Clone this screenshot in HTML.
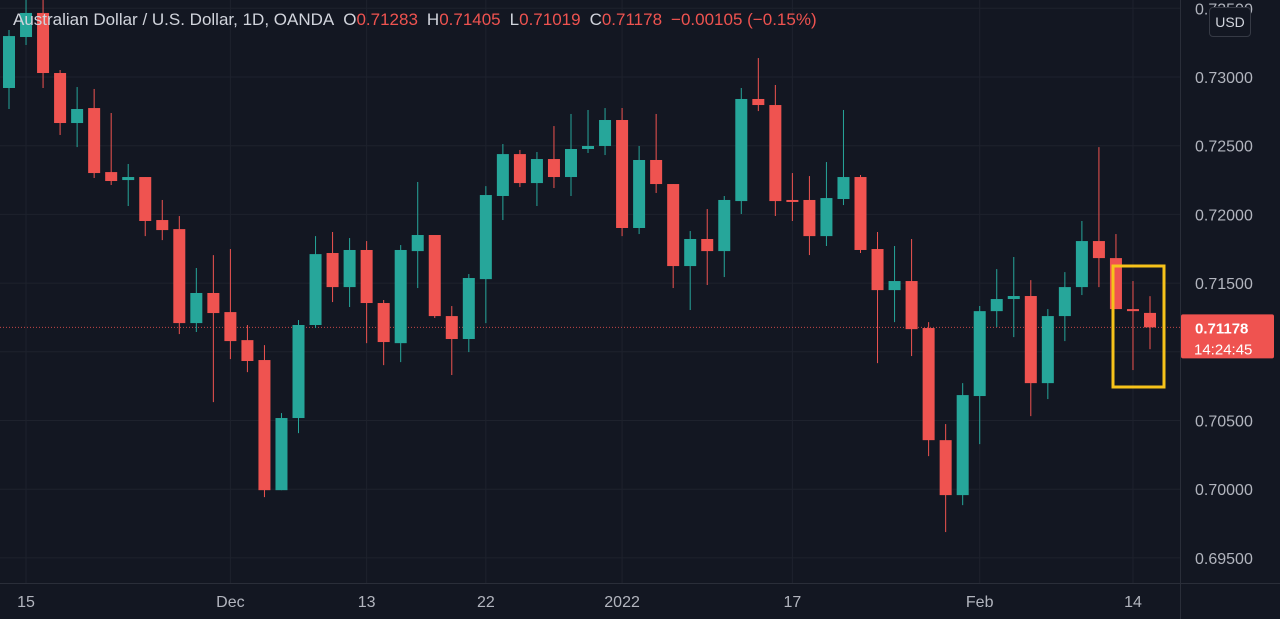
<!DOCTYPE html>
<html><head><meta charset="utf-8">
<style>
html,body{margin:0;padding:0;background:#131722;width:1280px;height:619px;overflow:hidden;font-family:"Liberation Sans",sans-serif;}
#wrap{position:relative;width:1280px;height:619px;}
svg{position:absolute;left:0;top:0;}
#hdr{position:absolute;left:13px;top:10px;font-size:17px;color:#d1d4dc;white-space:nowrap;}
#hdr .v{color:#ef5350;}
#hdr .g{display:inline-block;width:9px;}
#usd{position:absolute;left:1209px;top:7px;width:40px;height:28px;border:1px solid #363a45;border-radius:4px;background:#131722;color:#d1d4dc;font-size:14px;line-height:28px;text-align:center;}
</style></head>
<body>
<div id="wrap">
<svg id="chart" width="1280" height="619"></svg>
<div id="hdr">Australian Dollar / U.S. Dollar, 1D, OANDA<span class="g"></span>O<span class="v">0.71283</span><span class="g"></span>H<span class="v">0.71405</span><span class="g"></span>L<span class="v">0.71019</span><span class="g"></span>C<span class="v">0.71178</span><span class="g"></span><span class="v">−0.00105 (−0.15%)</span></div>
<div id="usd">USD</div>
</div>
<script>
const opens=[.72920,.73291,.73466,.73029,.72665,.72774,.72308,.72250,.72272,.71959,.71893,.71209,.71428,.71289,.71085,.70940,.69993,.70518,.71195,.71719,.71471,.71741,.71355,.71063,.71733,.71850,.71260,.71093,.71529,.72134,.72439,.72228,.72403,.72272,.72476,.72498,.72687,.71901,.72396,.72221,.71624,.71821,.71733,.72097,.72840,.72796,.72105,.72105,.71842,.72112,.72272,.71748,.71449,.71515,.71173,.70357,.69957,.70678,.71296,.71384,.71406,.70772,.71260,.71471,.71806,.71682,.71311,.71283];
const closes=[.73298,.73466,.73029,.72665,.72767,.72301,.72243,.72272,.71952,.71886,.71209,.71428,.71282,.71078,.70933,.69993,.70518,.71195,.71711,.71471,.71741,.71355,.71071,.71741,.71850,.71260,.71093,.71537,.72141,.72439,.72228,.72403,.72272,.72476,.72498,.72687,.71901,.72396,.72221,.71624,.71821,.71733,.72105,.72840,.72796,.72097,.72097,.71842,.72119,.72272,.71741,.71449,.71515,.71165,.70357,.69957,.70685,.71296,.71384,.71406,.70772,.71260,.71471,.71806,.71682,.71311,.71296,.71178];
const highs=[.73342,.73561,.73561,.73051,.72927,.72913,.72738,.72367,.72272,.72105,.71988,.71610,.71704,.71748,.71195,.71049,.70554,.71231,.71842,.71872,.71828,.71806,.71377,.71777,.72236,.71850,.71333,.71566,.72206,.72512,.72469,.72454,.72643,.72731,.72760,.72774,.72774,.72498,.72731,.72221,.71879,.72039,.72134,.72920,.73138,.72942,.72301,.72279,.72381,.72760,.72287,.71872,.71770,.71821,.71216,.70474,.70772,.71333,.71602,.71690,.71522,.71311,.71580,.71952,.72490,.71857,.71515,.71405];
const lows=[.72767,.73233,.72920,.72578,.72490,.72265,.72214,.72061,.71842,.71813,.71129,.71144,.70634,.70947,.70852,.69942,.69993,.70408,.71173,.71362,.71326,.71063,.70903,.70925,.71464,.71246,.70831,.70998,.71209,.71959,.72199,.72061,.72192,.72134,.72447,.72432,.71842,.71857,.72156,.71464,.71304,.71486,.71544,.72003,.72752,.71988,.71952,.71704,.71770,.72068,.71719,.70918,.71216,.70969,.70241,.69688,.69884,.70328,.71180,.71107,.70532,.70656,.71078,.71413,.71471,.71311,.70867,.71019];
const priceTicks=[0.735,0.73,0.725,0.72,0.715,0.71,0.705,0.70,0.695];
const timeLabels=["15","Dec","13","22","2022","17","Feb","14"];
const timeIdx=[1,13,21,28,36,46,57,66];
const lastPrice=0.71178;
const countdown="14:24:45";

const NS="http://www.w3.org/2000/svg";
const svg=document.getElementById('chart');
const PW=1180, PH=583;
function y(p){return 77+(0.73-p)*13740;}
function x(i){return 9+i*17.03;}
function mk(t,a,parent){const e=document.createElementNS(NS,t);for(const k in a)e.setAttribute(k,a[k]);(parent||svg).appendChild(e);return e;}

priceTicks.forEach(p=>{
  const l=mk('line',{x1:0,x2:PW,y1:y(p),y2:y(p),stroke:'#1e222d','stroke-width':1});
  
  
});
timeIdx.forEach(i=>{
  const l=mk('line',{x1:x(i),x2:x(i),y1:0,y2:PH,stroke:'#1e222d','stroke-width':1});
  
  
});
const pl=mk('line',{x1:0,x2:PW,y1:y(lastPrice),y2:y(lastPrice),stroke:'#ef5350','stroke-width':1,'stroke-dasharray':'1 2',opacity:0.8});



for(let i=0;i<opens.length;i++){
  const up=closes[i]>=opens[i];
  const c=up?'#26a69a':'#ef5350';
  const g=mk('g',{});
  
  
  mk('line',{x1:x(i),x2:x(i),y1:y(highs[i]),y2:y(lows[i]),stroke:c,'stroke-width':1},g);
  const top=y(Math.max(opens[i],closes[i])), bot=y(Math.min(opens[i],closes[i]));
  mk('rect',{x:x(i)-6,y:top,width:12,height:Math.max(bot-top,2),fill:c},g);
}

const hb=mk('rect',{x:1113,y:266,width:51,height:121,fill:'none',stroke:'#f7c31a','stroke-width':3});



mk('rect',{x:PW,y:0,width:100,height:619,fill:'#131722'});
mk('rect',{x:0,y:PH,width:1280,height:36,fill:'#131722'});
mk('line',{x1:PW+0.5,x2:PW+0.5,y1:0,y2:619,stroke:'#2a2e39'});
mk('line',{x1:0,x2:1280,y1:PH+0.5,y2:PH+0.5,stroke:'#2a2e39'});
priceTicks.forEach(p=>{
  const t=mk('text',{x:1195,y:y(p)+6,fill:'#b2b5be','font-size':16,'font-family':'Liberation Sans, sans-serif'});
  t.textContent=p.toFixed(5);
  
  
});
timeLabels.forEach((s,k)=>{
  const t=mk('text',{x:x(timeIdx[k]),y:607,fill:'#b2b5be','font-size':16,'text-anchor':'middle','font-family':'Liberation Sans, sans-serif'});
  t.textContent=s;
  
  
});
const lp=mk('g',{});


mk('rect',{x:1181,y:y(lastPrice)-13,width:93,height:44,fill:'#ef5350',rx:2},lp);
const t1=mk('text',{x:1195,y:y(lastPrice)+6,fill:'#fff','font-size':15,'font-weight':'bold','font-family':'Liberation Sans, sans-serif'},lp);
t1.textContent=lastPrice.toFixed(5);
const t2=mk('text',{x:1194,y:y(lastPrice)+27,fill:'#fff','font-size':15,'font-family':'Liberation Sans, sans-serif'},lp);
t2.textContent=countdown;
</script>
</body></html>
